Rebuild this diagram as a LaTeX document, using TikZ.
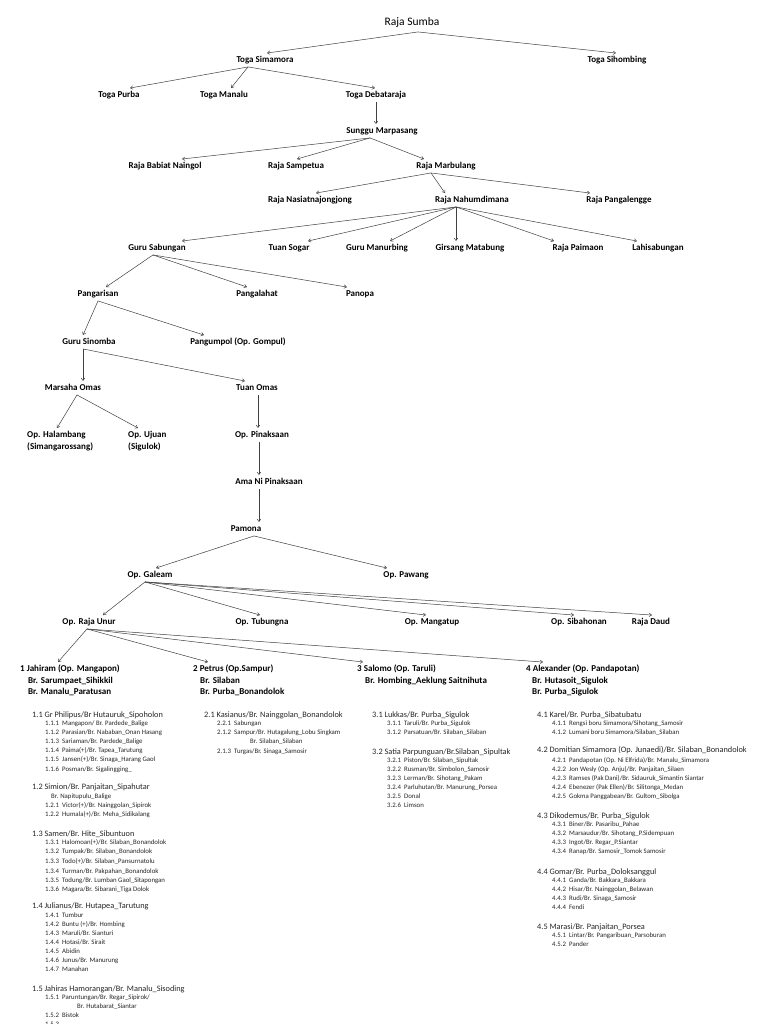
\documentclass[tikz,border=0pt]{standalone}
\usepackage{fontspec}
\setmainfont{Carlito}
\usetikzlibrary{arrows.meta}
\newcommand\lsthead[4]{\node[lh] (#1) at (#2,#3) {#4};}
\newcommand\lstsub[5]{\node[ls] (#1n) at (#2,#3) {#4}; \node[ls] (#1) at (#2+17,#3) {#5};}
\begin{document}
\begin{tikzpicture}[x=1pt,y=-1pt,
  tn/.style={font=\fontsize{9}{11}\selectfont\bfseries, inner xsep=0pt, inner ysep=2.5pt, text height=6.5pt, text depth=2pt},
  tw/.style={tn, anchor=west},
  big/.style={font=\fontsize{11.5}{13}\selectfont, inner xsep=0pt, inner ysep=2.5pt, text height=8pt, text depth=2.5pt},
  lh/.style={font=\fontsize{8.3}{9}\selectfont, anchor=west, inner sep=0pt, text height=5.5pt, text depth=1.5pt, text=black!85},
  ls/.style={font=\fontsize{6.8}{8}\selectfont, anchor=west, inner sep=0pt, text height=5pt, text depth=1.3pt, text=black!85},
  ar/.style={-{Straight Barb[length=2.5pt,width=3.5pt]}, line width=0.5pt, draw=black!75}]
\useasboundingbox (0,0) rectangle (768,1024);
\fill[white] (0,0) rectangle (768,1024);
% tree nodes
\node[big] (rs) at (412,23) {Raja Sumba};
\node[tn] (tsim) at (265,60) {Toga Simamora};
\node[tn] (tsih) at (617,60) {Toga Sihombing};
\node[tn] (tpur) at (119,95) {Toga Purba};
\node[tn] (tman) at (224,95) {Toga Manalu};
\node[tn] (tdeb) at (376,95) {Toga Debataraja};
\node[tn] (sm) at (382,131) {Sunggu Marpasang};
\node[tn] (rbn) at (165,166) {Raja Babiat Naingol};
\node[tn] (rsa) at (296,166) {Raja Sampetua};
\node[tn] (rmb) at (446,166) {Raja Marbulang};
\node[tn] (rnj) at (310,200) {Raja Nasiatnajongjong};
\node[tn] (rnd) at (472,200) {Raja Nahumdimana};
\node[tn] (rpl) at (619,200) {Raja Pangalengge};
\node[tn] (gsa) at (157,248) {Guru Sabungan};
\node[tn] (tso) at (289,248) {Tuan Sogar};
\node[tn] (gma) at (377,248) {Guru Manurbing};
\node[tn] (gmt) at (470,248) {Girsang Matabung};
\node[tn] (rpa) at (578,248) {Raja Paimaon};
\node[tn] (lah) at (658,248) {Lahisabungan};
\node[tn] (pgr) at (98,294) {Pangarisan};
\node[tn] (pgl) at (257,294) {Pangalahat};
\node[tn] (pno) at (360,294) {Panopa};
\node[tn] (gsi) at (89,342) {Guru Sinomba};
\node[tn] (pgm) at (238,342) {Pangumpol (Op. Gompul)};
\node[tn] (mso) at (73,388) {Marsaha Omas};
\node[tn] (tom) at (257,388) {Tuan Omas};
\node[tw] (hal) at (27,435) {Op. Halambang};
\node[tw] (hal2) at (27,447) {(Simangarossang)};
\node[tw] (uju) at (128,435) {Op. Ujuan};
\node[tw] (uju2) at (128,447) {(Sigulok)};
\node[tn] (pin) at (262,435) {Op. Pinaksaan};
\node[tn] (ama) at (269,482) {Ama Ni Pinaksaan};
\node[tn] (pam) at (246,529) {Pamona};
\node[tn] (gal) at (150,575) {Op. Galeam};
\node[tn] (paw) at (406,575) {Op. Pawang};
\node[tn] (ru) at (89,622) {Op. Raja Unur};
\node[tn] (tub) at (262,622) {Op. Tubungna};
\node[tn] (man) at (432,622) {Op. Mangatup};
\node[tn] (sib) at (579,622) {Op. Sibahonan};
\node[tn] (rd) at (651,622) {Raja Daud};
\node[tw] (h1) at (20,669) {1 Jahiram (Op. Mangapon)};
\node[tw] (h1a) at (28,681) {Br. Sarumpaet\_Sihikkil};
\node[tw] (h1b) at (28,692) {Br. Manalu\_Paratusan};
\node[tw] (h2) at (193,669) {2 Petrus (Op.Sampur)};
\node[tw] (h2a) at (200,681) {Br. Silaban};
\node[tw] (h2b) at (200,692) {Br. Purba\_Bonandolok};
\node[tw] (h3) at (357,669) {3 Salomo (Op. Taruli)};
\node[tw] (h3a) at (365,681) {Br. Hombing\_Aeklung Saitnihuta};
\node[tw] (h4) at (526,669) {4 Alexander (Op. Pandapotan)};
\node[tw] (h4a) at (532,681) {Br. Hutasoit\_Sigulok};
\node[tw] (h4b) at (532,692) {Br. Purba\_Sigulok};
% fan-out points
\coordinate (f-rs) at ([xshift=6pt,yshift=-1pt]rs.south);
\coordinate (f-tsim) at ([xshift=-17pt]tsim.south);
\coordinate (f-tdeb) at ([xshift=0pt]tdeb.south);
\coordinate (f-sm) at ([xshift=-12pt]sm.south);
\coordinate (f-rmb) at ([xshift=-15pt]rmb.south);
\coordinate (f-rnd) at ([xshift=-16pt]rnd.south);
\coordinate (f-gsa) at ([xshift=-4pt]gsa.south);
\coordinate (f-pgr) at ([xshift=0pt]pgr.south);
\coordinate (f-gsi) at ([xshift=-6pt]gsi.south);
\coordinate (f-mso) at ([xshift=4pt]mso.south);
\coordinate (f-tom) at ([xshift=1pt]tom.south);
\coordinate (f-pin) at ([xshift=-3pt]pin.south);
\coordinate (f-ama) at ([xshift=-10pt]ama.south);
\coordinate (f-pam) at ([xshift=8pt]pam.south);
\coordinate (f-gal) at ([xshift=-5pt]gal.south);
\coordinate (f-ru) at ([xshift=-2pt]ru.south);
% connectors
\draw[ar] (f-rs) -- ([xshift=2pt]tsim.north);
\draw[ar] (f-rs) -- ([xshift=-1pt]tsih.north);
\draw[ar] (f-tsim) -- ([xshift=11pt]tpur.north);
\draw[ar] (f-tsim) -- ([xshift=7pt]tman.north);
\draw[ar] (f-tsim) -- ([xshift=-1pt]tdeb.north);
\draw[ar] (f-tdeb) -- ([xshift=-6pt]sm.north);
\draw[ar] (f-sm) -- ([xshift=17pt]rbn.north);
\draw[ar] (f-sm) -- ([xshift=1pt]rsa.north);
\draw[ar] (f-sm) -- ([xshift=-22pt]rmb.north);
\draw[ar] (f-rmb) -- ([xshift=6pt]rnj.north);
\draw[ar] (f-rmb) -- ([xshift=-27pt]rnd.north);
\draw[ar] (f-rmb) -- ([xshift=-29pt]rpl.north);
\draw[ar] (f-rnd) -- ([xshift=25pt]gsa.north);
\draw[ar] (f-rnd) -- ([xshift=19pt]tso.north);
\draw[ar] (f-rnd) -- ([xshift=13pt]gma.north);
\draw[ar] (f-rnd) -- ([xshift=-14pt]gmt.north);
\draw[ar] (f-rnd) -- ([xshift=-24pt]rpa.north);
\draw[ar] (f-rnd) -- ([xshift=-21pt]lah.north);
\draw[ar] (f-gsa) -- ([xshift=8pt]pgr.north);
\draw[ar] (f-gsa) -- ([xshift=-10pt]pgl.north);
\draw[ar] (f-gsa) -- ([xshift=-13pt]pno.north);
\draw[ar] (f-pgr) -- ([xshift=-6pt]gsi.north);
\draw[ar] (f-pgr) -- ([xshift=-34pt]pgm.north);
\draw[ar] (f-gsi) -- ([xshift=10pt]mso.north);
\draw[ar] (f-gsi) -- ([xshift=-12pt]tom.north);
\draw[ar] (f-mso) -- ([xshift=30pt]hal.north west);
\draw[ar] (f-mso) -- ([xshift=10pt]uju.north west);
\draw[ar] (f-tom) -- ([xshift=-4pt]pin.north);
\draw[ar] (f-pin) -- ([xshift=-10pt]ama.north);
\draw[ar] (f-ama) -- ([xshift=13pt]pam.north);
\draw[ar] (f-pam) -- ([xshift=6pt]gal.north);
\draw[ar] (f-pam) -- ([xshift=-19pt]paw.north);
\draw[ar] (f-gal) -- ([xshift=14pt]ru.north);
\draw[ar] (f-gal) -- ([xshift=-2pt]tub.north);
\draw[ar] (f-gal) -- ([xshift=-6pt]man.north);
\draw[ar] (f-gal) -- ([xshift=-5pt]sib.north);
\draw[ar] (f-gal) -- ([xshift=1pt]rd.north);
\draw[ar] (f-ru) -- ([xshift=38pt]h1.north west);
\draw[ar] (f-ru) -- ([xshift=15pt]h2.north west);
\draw[ar] (f-ru) -- ([xshift=6pt]h3.north west);
\draw[ar] (f-ru) -- ([xshift=17pt]h4.north west);
% column 1
\lsthead{c11}{32}{715}{1.1 Gr Philipus/Br Hutauruk\_Sipoholon}
\lstsub{c111}{45}{724}{1.1.1}{Mangapon/ Br. Pardede\_Balige}
\lstsub{c112}{45}{733}{1.1.2}{Parasian/Br. Nababan\_Onan Hasang}
\lstsub{c113}{45}{742}{1.1.3}{Sariaman/Br. Pardede\_Balige}
\lstsub{c114}{45}{751}{1.1.4}{Paima(+)/Br. Tapea\_Tarutung}
\lstsub{c115}{45}{760}{1.1.5}{Jansen(+)/Br. Sinaga\_Harang Gaol}
\lstsub{c116}{45}{770}{1.1.6}{Posman/Br. Sigalingging\_}
\lsthead{c12}{32}{787}{1.2 Simion/Br. Panjaitan\_Sipahutar}
\node[ls] (c12x) at (51,797) {Br. Napitupulu\_Balige};
\lstsub{c121}{45}{806}{1.2.1}{Victor(+)/Br. Nainggolan\_Sipirok}
\lstsub{c122}{45}{815}{1.2.2}{Humala(+)/Br. Meha\_Sidikalang}
\lsthead{c13}{32}{834}{1.3 Samen/Br. Hite\_Sibuntuon}
\lstsub{c131}{45}{843}{1.3.1}{Halomoan(+)/Br. Silaban\_Bonandolok}
\lstsub{c132}{45}{852}{1.3.2}{Tumpak/Br. Silaban\_Bonandolok}
\lstsub{c133}{45}{862}{1.3.3}{Todo(+)/Br. Silaban\_Pansurnatolu}
\lstsub{c134}{45}{872}{1.3.4}{Turman/Br. Pakpahan\_Bonandolok}
\lstsub{c135}{45}{881}{1.3.5}{Todung/Br. Lumban Gaol\_Sitapongan}
\lstsub{c136}{45}{890}{1.3.6}{Magara/Br. Sibarani\_Tiga Dolok}
\lsthead{c14}{32}{906}{1.4 Julianus/Br. Hutapea\_Tarutung}
\lstsub{c141}{45}{916}{1.4.1}{Tumbur}
\lstsub{c142}{45}{925}{1.4.2}{Buntu (+)/Br. Hombing}
\lstsub{c143}{45}{934}{1.4.3}{Maruli/Br. Sianturi}
\lstsub{c144}{45}{943}{1.4.4}{Hotasi/Br. Sirait}
\lstsub{c145}{45}{952}{1.4.5}{Abidin}
\lstsub{c146}{45}{961}{1.4.6}{Junus/Br. Manurung}
\lstsub{c147}{45}{970}{1.4.7}{Manahan}
\lsthead{c15}{32}{989}{1.5 Jahiras Hamorangan/Br. Manalu\_Sisoding}
\lstsub{c151}{45}{998}{1.5.1}{Paruntungan/Br. Regar\_Sipirok/}
\node[ls] (c151x) at (77,1007) {Br. Hutabarat\_Siantar};
\lstsub{c152}{45}{1016}{1.5.2}{Bistok}
\node[ls] (c153n) at (45,1025) {1.5.3};
% column 2
\lsthead{c21}{204}{715}{2.1 Kasianus/Br. Nainggolan\_Bonandolok}
\lstsub{c221}{217}{724}{2.2.1}{Sabungan}
\lstsub{c212}{217}{733}{2.1.2}{Sampur/Br. Hutagalung\_Lobu Singkam}
\node[ls] (c212x) at (250,742) {Br. Silaban\_Silaban};
\lstsub{c213}{217}{752}{2.1.3}{Turgas/Br. Sinaga\_Samosir}
% column 3
\lsthead{c31}{372}{715}{3.1 Lukkas/Br. Purba\_Sigulok}
\lstsub{c311}{387}{724}{3.1.1}{Taruli/Br. Purba\_Sigulok}
\lstsub{c312}{387}{733}{3.1.2}{Parsatuan/Br. Silaban\_Silaban}
\lsthead{c32}{372}{752}{3.2 Satia Parpunguan/Br.Silaban\_Sipultak}
\lstsub{c321}{387}{761}{3.2.1}{Piston/Br. Silaban\_Sipultak}
\lstsub{c322}{387}{770}{3.2.2}{Rusman/Br. Simbolon\_Samosir}
\lstsub{c323}{387}{779}{3.2.3}{Lerman/Br. Sihotang\_Pakam}
\lstsub{c324}{387}{788}{3.2.4}{Parluhutan/Br. Manurung\_Porsea}
\lstsub{c325}{387}{797}{3.2.5}{Donal}
\lstsub{c326}{387}{806}{3.2.6}{Limson}
% column 4
\lsthead{c41}{537}{715}{4.1 Karel/Br. Purba\_Sibatubatu}
\lstsub{c411}{552}{724}{4.1.1}{Rengsi boru Simamora/Sihotang\_Samosir}
\lstsub{c412}{552}{733}{4.1.2}{Lumani boru Simamora/Silaban\_Silaban}
\lsthead{c42}{537}{750}{4.2 Domitian Simamora (Op. Junaedi)/Br. Silaban\_Bonandolok}
\lstsub{c421}{552}{761}{4.2.1}{Pandapotan (Op. Ni Elfrida)/Br. Manalu\_Simamora}
\lstsub{c422}{552}{770}{4.2.2}{Jon Wesly (Op. Anju)/Br. Panjaitan\_Silaen}
\lstsub{c423}{552}{779}{4.2.3}{Ramses (Pak Dani)/Br. Sidauruk\_Simantin Siantar}
\lstsub{c424}{552}{788}{4.2.4}{Ebenezer (Pak Ellen)/Br. Silitonga\_Medan}
\lstsub{c425}{552}{797}{4.2.5}{Gokma Panggabean/Br. Gultom\_Sibolga}
\lsthead{c43}{537}{816}{4.3 Dikodemus/Br. Purba\_Sigulok}
\lstsub{c431}{552}{825}{4.3.1}{Biner/Br. Pasaribu\_Pahae}
\lstsub{c432}{552}{834}{4.3.2}{Marsaudur/Br. Sihotang\_P.Sidempuan}
\lstsub{c433}{552}{843}{4.3.3}{Ingot/Br. Regar\_P.Siantar}
\lstsub{c434}{552}{852}{4.3.4}{Ranap/Br. Samosir\_Tomok Samosir}
\lsthead{c44}{537}{872}{4.4 Gomar/Br. Purba\_Doloksanggul}
\lstsub{c441}{552}{881}{4.4.1}{Ganda/Br. Bakkara\_Bakkara}
\lstsub{c442}{552}{890}{4.4.2}{Hisar/Br. Nainggolan\_Belawan}
\lstsub{c443}{552}{899}{4.4.3}{Rudi/Br. Sinaga\_Samosir}
\lstsub{c444}{552}{908}{4.4.4}{Fendi}
\lsthead{c45}{537}{927}{4.5 Marasi/Br. Panjaitan\_Porsea}
\lstsub{c451}{552}{936}{4.5.1}{Lintar/Br. Pangaribuan\_Parsoburan}
\lstsub{c452}{552}{945}{4.5.2}{Pander}
\end{tikzpicture}
\end{document}
